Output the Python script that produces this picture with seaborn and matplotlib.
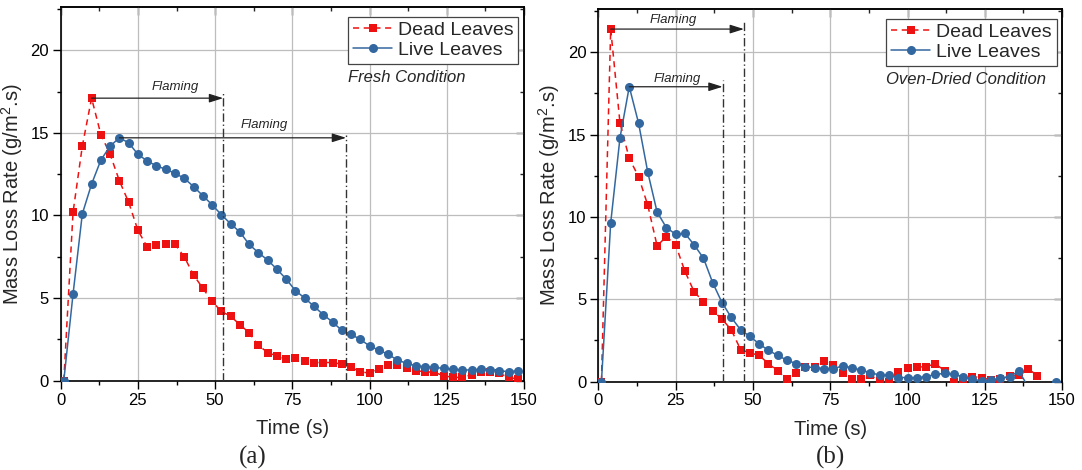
import numpy as np
import pandas as pd
import matplotlib
matplotlib.use("Agg")
import matplotlib.pyplot as plt
import seaborn as sns
from matplotlib.ticker import MultipleLocator

# ---------------- data ----------------
time_s = [1, 4, 7, 10, 13, 16, 19, 22, 25, 28, 31, 34, 37, 40, 43, 46, 49, 52, 55, 58,
          61, 64, 67, 70, 73, 76, 79, 82, 85, 88, 91, 94, 97, 100, 103, 106, 109, 112, 115, 118,
          121, 124, 127, 130, 133, 136, 139, 142, 145, 148]

dead_fresh = [0, 10.2, 14.2, 17.1, 14.9, 13.7, 12.1, 10.8, 9.1, 8.1, 8.2, 8.3, 8.25, 7.5, 6.4,
              5.6, 4.8, 4.2, 3.9, 3.4, 2.9, 2.15, 1.7, 1.5, 1.3, 1.4, 1.2, 1.1, 1.1, 1.1, 1.0,
              0.8, 0.55, 0.45, 0.7, 0.95, 0.95, 0.75, 0.6, 0.55, 0.5, 0.3, 0.2, 0.2, 0.35, 0.55,
              0.55, 0.45, 0.2, 0.1]
live_fresh = [0, 5.25, 10.1, 11.9, 13.35, 14.2, 14.7, 14.4, 13.7, 13.3, 13.0, 12.8, 12.55, 12.25,
              11.75, 11.2, 10.65, 10.05, 9.5, 9.0, 8.25, 7.75, 7.3, 6.75, 6.15, 5.45, 5.0, 4.5,
              4.0, 3.55, 3.05, 2.8, 2.5, 2.1, 1.85, 1.6, 1.25, 1.05, 0.9, 0.85, 0.8, 0.75, 0.7,
              0.65, 0.65, 0.7, 0.65, 0.6, 0.55, 0.6]

dead_oven = [0, 21.4, 15.7, 13.55, 12.45, 10.7, 8.25, 8.8, 8.3, 6.7, 5.45, 4.85, 4.3, 3.8, 3.15,
             1.95, 1.75, 1.6, 1.1, 0.65, 0.15, 0.5, 0.9, 0.9, 1.25, 1.0, 0.5, 0.15, 0.15, 0.4,
             0.05, 0.0, 0.6, 0.85, 0.9, 0.9, 1.1, 0.65, 0.0, 0.1, 0.3, 0.25, 0.1, 0.15, 0.35,
             0.4, 0.8, 0.35]
live_oven = [0, 9.65, 14.8, 17.9, 15.7, 12.7, 10.3, 9.35, 8.95, 9.0, 8.3, 7.5, 6.0, 4.8, 3.9,
             3.15, 2.75, 2.3, 1.9, 1.6, 1.3, 1.1, 0.9, 0.85, 0.8, 0.8, 0.95, 0.85, 0.7, 0.55,
             0.4, 0.4, 0.25, 0.25, 0.25, 0.3, 0.45, 0.5, 0.45, 0.3, 0.15, 0.05, 0.1, 0.2, 0.3,
             0.65, -0.3, -0.4, -0.3, 0.0]

series_labels = ["Dead Leaves", "Live Leaves"]
condition_labels = ["Fresh Condition", "Oven-Dried Condition"]
panel_labels = ["(a)", "(b)"]

# flaming annotations: [dead, live]
flame_end_fresh = [52.6, 92.4]
flame_top_fresh = [17.4, 14.9]
flame_text_fresh = [(37.2, 17.75), (66.0, 15.45)]
flame_end_oven = [47.1, 40.2]
flame_top_oven = [21.9, 18.3]
flame_text_oven = [(24.3, 21.95), (25.6, 18.4)]

RED = "#EE1111"
BLUE = "#33679F"

# ---------------- style ----------------
sns.set_style("ticks")
plt.rcParams["font.family"] = ["Liberation Sans", "DejaVu Sans"]
plt.rcParams["mathtext.default"] = "regular"

fig = plt.figure(figsize=(10.82, 4.70), dpi=100)
ax1 = fig.add_axes([0.0561, 0.19, 0.4282, 0.7945])
ax2 = fig.add_axes([0.553, 0.1879, 0.4286, 0.7923])


def panel(ax, dead, live, cond, fend, ftop, ftext):
    td = time_s[:len(dead)]
    tl = time_s[:len(live)]
    sns.lineplot(x=td, y=dead, ax=ax, color=RED, linestyle=(0, (4, 3)), lw=1.1,
                 marker="s", markersize=5.8, markeredgecolor=RED, markeredgewidth=0,
                 label=series_labels[0], zorder=3)
    sns.lineplot(x=tl, y=live, ax=ax, color=BLUE, linestyle="-", lw=1.1,
                 marker="o", markersize=6.5, markeredgecolor=BLUE, markeredgewidth=0,
                 label=series_labels[1], zorder=4)

    ax.set_xlim(0, 150)
    ax.set_ylim(0, 22.6)
    ax.xaxis.set_major_locator(MultipleLocator(25))
    ax.xaxis.set_minor_locator(MultipleLocator(12.5))
    ax.yaxis.set_major_locator(MultipleLocator(5))
    ax.yaxis.set_minor_locator(MultipleLocator(2.5))
    ax.grid(True, which="major", color="#BDBDBD", lw=0.9)
    ax.set_axisbelow(True)
    ax.tick_params(which="major", direction="out", length=5.5, width=1.0,
                   labelsize=12, pad=3, color="black", labelcolor="black")
    ax.tick_params(which="minor", direction="out", length=2.6, width=1.0, color="black")
    for s in ax.spines.values():
        s.set_linewidth(1.2)
        s.set_color("black")

    # mirrored ticks pointing inward on top and right
    sx = ax.secondary_xaxis("top")
    sx.xaxis.set_major_locator(MultipleLocator(25))
    sx.xaxis.set_minor_locator(MultipleLocator(12.5))
    sx.tick_params(which="major", direction="in", length=5.5, width=1.0, labeltop=False)
    sx.tick_params(which="minor", direction="in", length=2.6, width=1.0)
    sy = ax.secondary_yaxis("right")
    sy.yaxis.set_major_locator(MultipleLocator(5))
    sy.yaxis.set_minor_locator(MultipleLocator(2.5))
    sy.tick_params(which="major", direction="in", length=5.5, width=1.0, labelright=False)
    sy.tick_params(which="minor", direction="in", length=2.6, width=1.0)
    for sec in (sx, sy):
        for s in sec.spines.values():
            s.set_linewidth(1.2)

    ax.set_xlabel("Time (s)", fontsize=14.5, labelpad=8)
    ax.set_ylabel("Mass Loss Rate (g/m$^2$.s)", fontsize=14.5, labelpad=4)

    leg = ax.legend(loc="upper right", bbox_to_anchor=(0.988, 0.975), borderaxespad=0,
                    fontsize=14, handlelength=2.0, handletextpad=0.3, borderpad=0.25,
                    labelspacing=0.1, fancybox=False, framealpha=1, edgecolor="#444444")
    leg.get_frame().set_linewidth(0.9)

    ax.text(93, 18.37, cond, fontsize=12, style="italic", ha="left", va="center")

    for series, end, top, (tx, ty) in zip((dead, live), fend, ftop, ftext):
        i = int(np.argmax(series))
        x0, y0 = time_s[i], series[i]
        ax.annotate("", xy=(end, y0), xytext=(x0, y0),
                    arrowprops=dict(arrowstyle="-|>,head_length=0.7,head_width=0.22",
                                    color="#222222", lw=0.9, shrinkA=0, shrinkB=0,
                                    mutation_scale=12), zorder=5)
        ax.vlines(end, 0, top, colors="#333333", linestyles=(0, (6, 2, 1, 2)), lw=1.0, zorder=5)
        ax.text(tx, ty, "Flaming", fontsize=9.5, style="italic", ha="center", va="center")


panel(ax1, dead_fresh, live_fresh, condition_labels[0], flame_end_fresh, flame_top_fresh, flame_text_fresh)
panel(ax2, dead_oven, live_oven, condition_labels[1], flame_end_oven, flame_top_oven, flame_text_oven)

fig.text(0.234, 0.026, panel_labels[0], family="Liberation Serif", fontsize=18, ha="center", va="center")
fig.text(0.768, 0.026, panel_labels[1], family="Liberation Serif", fontsize=18, ha="center", va="center")

fig.savefig("out.png", dpi=100)
